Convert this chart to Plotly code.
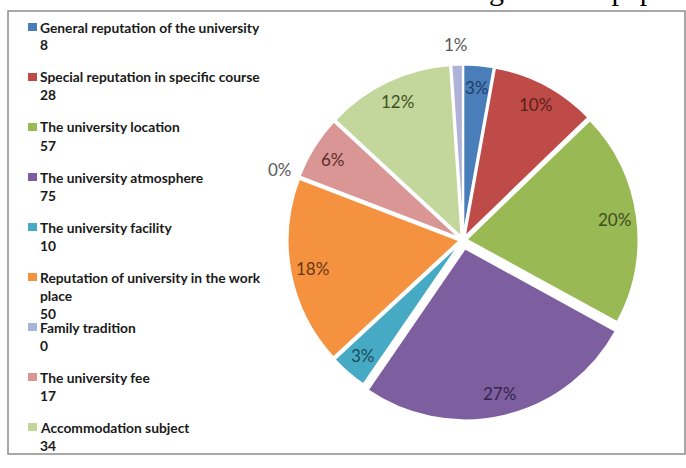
import math
import textwrap
import plotly.graph_objects as go

# ---------------- data ----------------
categories = [
    "General reputation of the university",
    "Special reputation in specific course",
    "The university location",
    "The university atmosphere",
    "The university facility",
    "Reputation of university in the work place",
    "Family tradition",
    "The university fee",
    "Accommodation subject",
]
counts = [8, 28, 57, 75, 10, 50, 0, 17, 34]
# small unlabelled slice at the top of the pie (not listed in the legend)
extra_name = "Other"
extra_count = 3
pct_labels = ["3%", "10%", "20%", "27%", "3%", "18%", "0%", "6%", "12%", "1%"]
label_outside = [False, False, False, False, False, False, True, False, False, True]

# ---------------- styles ----------------
slice_colors = ["#4a7ebb", "#be4b48", "#98b954", "#7d5fa0", "#46aac5",
                "#f59240", "#a5b5d9", "#d99694", "#c3d69b", "#b0b3d9"]
text_colors = ["#1f3d66", "#5c1d1b", "#3c4d20", "#33264a", "#1b4a58",
               "#6a3710", "#595959", "#5a2d2d", "#3d5222", "#595959"]
pulls = [0.02, 0.02, 0.02, 0.05, 0.02, 0.02, 0.02, 0.02, 0.02, 0.02]

W, H = 686, 468
CX, CY, R = 463, 240, 172          # pie centre / radius in pixels
IN_F, OUT_F = 0.87, 1.12           # label radius factors

def px(x):
    return x / W

def py(y):
    return 1 - y / H

values = counts + [extra_count]
labels = categories + [extra_name]
total = sum(values)
maxpull = max(pulls)
half = R * (1 + maxpull)

fig = go.Figure()
fig.add_trace(go.Pie(
    labels=labels,
    values=values,
    sort=False,
    direction="clockwise",
    rotation=0,
    pull=pulls,
    marker=dict(colors=slice_colors, line=dict(color="white", width=2)),
    textinfo="none",
    hoverinfo="label+value+percent",
    showlegend=False,
    domain=dict(x=[px(CX - half), px(CX + half)], y=[py(CY + half), py(CY - half)]),
))

annotations = []
shapes = []

# percentage labels
cum = 0
for i, v in enumerate(values):
    theta = 2 * math.pi * (cum + v / 2) / total
    cum += v
    f = OUT_F if label_outside[i] else IN_F
    r = (f + pulls[i]) * R
    x = CX + r * math.sin(theta)
    y = CY - r * math.cos(theta)
    annotations.append(dict(
        x=px(x), y=py(y), xref="paper", yref="paper", showarrow=False,
        text=pct_labels[i], xanchor="center", yanchor="middle",
        font=dict(family="Lato", size=17, color=text_colors[i]),
    ))

# legend
LEG_X, LEG_Y0, LEG_STEP, LINE_H = 38, 27, 50, 18
for i, (name, cnt) in enumerate(zip(categories, counts)):
    yc = LEG_Y0 + i * LEG_STEP
    lines = textwrap.wrap(name, 37) + [str(cnt)]
    for j, ln in enumerate(lines):
        annotations.append(dict(
            x=px(LEG_X), y=py(yc + j * LINE_H), xref="paper", yref="paper",
            showarrow=False, text=ln, xanchor="left", yanchor="middle",
            font=dict(family="Lato", size=13.8, color="#1a1a1a", weight="bold"),
        ))
    shapes.append(dict(type="rect", xref="paper", yref="paper",
                       x0=px(28), x1=px(37), y0=py(yc - 4), y1=py(yc + 4),
                       fillcolor=slice_colors[i], line=dict(width=0)))

# cropped document text above the chart frame (only descenders visible)
annotations.append(dict(
    x=px(487), y=py(-11), xref="paper", yref="paper", showarrow=False,
    text="g on their paper", xanchor="left", yanchor="middle",
    font=dict(family="Liberation Serif", size=30, color="#000000"),
))

# chart frame
shapes.append(dict(type="rect", xref="paper", yref="paper",
                   x0=px(8), x1=px(685), y0=py(454), y1=py(11),
                   line=dict(color="#8c8c8c", width=1.5), fillcolor="rgba(0,0,0,0)"))

fig.update_layout(
    width=W, height=H,
    margin=dict(l=0, r=0, t=0, b=0),
    paper_bgcolor="white",
    plot_bgcolor="white",
    annotations=annotations,
    shapes=shapes,
)

fig.write_html("out.html",
               config={"displayModeBar": False},
               post_script="document.body.style.margin='0';document.body.style.overflow='hidden';")
